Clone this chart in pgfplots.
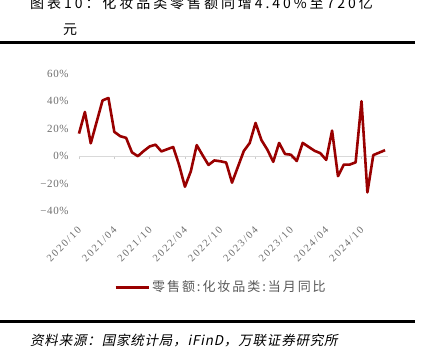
\documentclass[border=0pt]{standalone}
\usepackage{pgfplots}
\pgfplotsset{compat=1.18}
\usepackage{fontspec}
\setmainfont{Liberation Serif}
\newfontfamily\cjk[LetterSpace=21]{Noto Sans CJK SC}
\newfontfamily\cjkit[FakeSlant=0.2,LetterSpace=6]{Noto Sans CJK SC}
\newfontfamily\cjkleg[LetterSpace=15]{Noto Sans CJK SC}
\newfontfamily\ytickfont[LetterSpace=5]{Liberation Serif}
\newfontfamily\xtickfont[LetterSpace=15]{Liberation Serif}
\definecolor{darkred}{RGB}{153,0,0}
\definecolor{tickgray}{RGB}{110,110,110}
\definecolor{leggray}{RGB}{89,89,89}
\begin{document}
\begin{tikzpicture}[x=1pt,y=1pt]
\useasboundingbox (0,0) rectangle (421,355);
% title
\node[anchor=base west, inner sep=0pt, font=\cjk\fontsize{14}{16}\selectfont] at (30,346) {图表10：化妆品类零售额同增4.40\%至720亿};
\node[anchor=base west, inner sep=0pt, font=\cjk\fontsize{14}{16}\selectfont] at (63,320.5) {元};
\draw[line width=3pt] (0,312.5) -- (415,312.5);
\draw[line width=3pt] (0,33.3) -- (415,33.3);
\node[anchor=west, inner sep=0pt, font=\cjkit\fontsize{13.5}{15}\selectfont] at (30,14.3) {资料来源：国家统计局，iFinD，万联证券研究所};
\begin{axis}[
  at={(79pt,144pt)}, anchor=south west,
  scale only axis, width=309pt, height=137pt,
  xmin=0, xmax=52.5, ymin=-40, ymax=60,
  axis x line=middle, axis y line=left,
  hide obscured x ticks=false, hide obscured y ticks=false,
  x axis line style={draw=gray!30, line width=1.2pt, -},
  y axis line style={draw=none},
  xtick={0,6,...,48},
  xticklabels={2020/10,2021/04,2021/10,2022/04,2022/10,2023/04,2023/10,2024/04,2024/10},
  ytick={-40,-20,0,20,40,60},
  yticklabels={−40\%,−20\%,0\%,20\%,40\%,60\%},
  tick align=outside,
  major tick length=3pt,
  xtick style={draw=gray!40, line width=0.6pt},
  ytick style={draw=none},
  yticklabel style={font=\ytickfont\fontsize{11}{12}\selectfont, text=tickgray, anchor=east, xshift=-4pt},
  xticklabel style={font=\xtickfont\fontsize{10.5}{12}\selectfont, text=tickgray, xshift=3pt, yshift=-67pt, rotate=45, anchor=east},
  legend style={at={(axis description cs:0.113,-0.555)}, anchor=west, draw=none, fill=none, inner sep=0pt,
    font=\cjkleg\fontsize{13}{15}\selectfont, text=leggray},
  legend image code/.code={\draw[#1, line width=3pt] (0pt,0pt) -- (33pt,0pt);},
  clip=false,
]
\addplot[color=darkred, line width=2.6pt, line join=round, mark=none] table {
x y
0 16.5
1 32.3
2 9.4
4 40.7
5 42.5
6 17.8
7 14.6
8 13.4
9 2.8
10 0.0
11 3.8
12 7.1
13 8.4
14 3.5
16 6.7
17 -6.3
18 -22.3
19 -11.0
20 8.1
21 0.7
22 -6.4
23 -3.1
24 -3.7
25 -4.6
26 -19.3
28 3.8
29 9.6
30 24.3
31 11.7
32 4.8
33 -4.1
34 9.7
35 1.6
36 1.1
37 -3.5
38 9.7
40 4.0
41 2.2
42 -2.7
43 18.7
44 -14.6
45 -6.1
46 -6.1
47 -4.5
48 40.1
49 -26.4
50 0.8
52 4.4
};
\addlegendentry{零售额:化妆品类:当月同比}
\end{axis}
\end{tikzpicture}
\end{document}
